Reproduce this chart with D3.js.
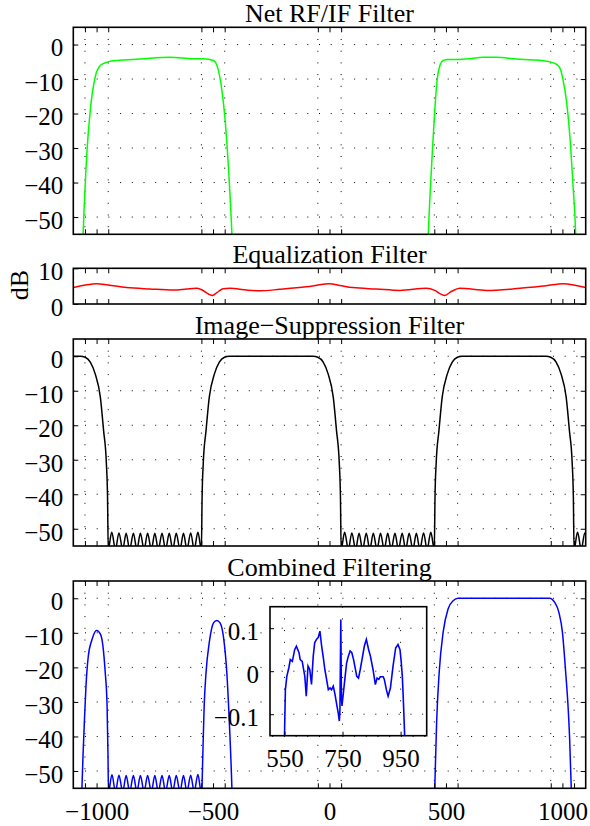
<!DOCTYPE html>
<html>
<head>
<meta charset="utf-8">
<script src="https://cdn.jsdelivr.net/npm/d3@7"></script>
<style>
  body { margin: 0; background: #fff; }
  svg text { font-family: "Liberation Serif", "Times New Roman", serif; fill: #000; }
  .grid line { stroke: #000; stroke-width: 1; stroke-dasharray: 1, 10.7; }
  .tick line { stroke: #000; stroke-width: 1; }
</style>
</head>
<body>
<svg id="chart" width="590" height="826"></svg>
<script>
// ---- tick values ----
const xTickVals = [-1050, -1000, -950, -550, -500, -450, -50, 0, 50, 450, 500, 550, 950, 1000, 1050];
const xGridVals = [-1050, -950, -550, -450, -50, 50, 450, 550, 950, 1050];
const xTickLabels = [-1000, -500, 0, 500, 1000];
const dbTicks = [0, -10, -20, -30, -40, -50];
const eqTicks = [0, 10];
const insetXTicks = [550, 750, 950];
const insetYTicks = [-0.1, 0, 0.1];

// ---- series: [frequency, dB] ----
const netRF = [
  [-1062, -62], [-1058, -55], [-1041, -30.6], [-1027, -19], [-1006, -9.4], [-984, -6.1], [-955, -5.1],
  [-913, -4.6], [-813, -4.2], [-684, -3.7], [-584, -4.1], [-541, -4.1], [-498, -4.6], [-477, -7.5],
  [-462, -13.3], [-448, -22], [-434, -35.5], [-419, -55], [-415, -62],
  [420, -62], [424, -55], [442, -30.6], [452, -19], [462, -10.3], [474, -6.1], [488, -4.6], [509, -4.3],
  [545, -4.3], [602, -4.1], [659, -3.7], [717, -3.7], [803, -4.2], [888, -4.5], [945, -5.0], [974, -5.7],
  [991, -7.1], [1003, -10.3], [1017, -16.1], [1031, -25.7], [1045, -40.2], [1057, -55], [1060, -62]
];

const eqGain = [
  [-1100, 4.6], [-1050, 5.3], [-1000, 5.7], [-950, 5.3], [-871, 4.6], [-771, 4.2], [-670, 3.9],
  [-613, 4.2], [-573, 4.4], [-549, 4.0], [-520, 2.8], [-502, 2.4], [-485, 3.1], [-457, 4.3],
  [-428, 4.4], [-356, 3.9], [-299, 3.7], [-214, 4.1], [-100, 4.8], [-28, 5.5], [0, 5.7], [45, 5.2],
  [100, 4.6], [202, 4.2], [302, 3.8], [416, 4.4], [452, 3.8], [480, 2.7], [495, 2.4], [523, 3.5],
  [559, 4.4], [674, 3.8], [817, 4.4], [931, 5.1], [1002, 5.7], [1100, 4.6]
];

const imageSup = [
  [-1100, 0], [-1070, 0], [-1049, -0.3], [-1027, -1.7], [-1006, -5.1], [-984, -11.8], [-970, -21.5],
  [-958, -31], [-953, -40.8], [-950, -56],
  [-935, -51.0], [-919, -56], [-904, -51.2], [-888, -56], [-873, -51.3], [-858, -56], [-842, -51.3],
  [-827, -56], [-812, -51.3], [-796, -56], [-781, -51.3], [-765, -56], [-750, -51.3], [-735, -56],
  [-719, -51.3], [-704, -56], [-688, -51.3], [-673, -56], [-658, -51.3], [-642, -56], [-627, -51.3],
  [-612, -56], [-596, -51.2], [-581, -56], [-565, -51.0], [-550, -56],
  [-547, -40.8], [-542, -31], [-530, -21.5], [-516, -11.8], [-494, -5.1], [-473, -1.7], [-451, -0.3],
  [-430, 0], [-70, 0], [-50, -0.3], [-27, -1.7], [-6, -5.1], [16, -11.8], [30, -21.5], [42, -31],
  [47, -40.8], [50, -56],
  [65, -51.0], [81, -56], [96, -51.2], [112, -56], [127, -51.3], [142, -56], [158, -51.3], [173, -56],
  [188, -51.3], [204, -56], [219, -51.3], [235, -56], [250, -51.3], [265, -56], [281, -51.3], [296, -56],
  [312, -51.3], [327, -56], [342, -51.3], [358, -56], [373, -51.3], [388, -56], [404, -51.2], [419, -56],
  [435, -51.0], [450, -56],
  [453, -40.8], [458, -31], [470, -21.5], [484, -11.8], [506, -5.1], [527, -1.7], [549, -0.3], [570, 0],
  [930, 0], [950, -0.3], [973, -1.7], [994, -5.1], [1016, -11.8], [1030, -21.5], [1042, -31],
  [1047, -40.8], [1050, -56], [1065, -51.0], [1081, -56], [1096, -51.2], [1112, -56]
];

const combined = [
  [-1066, -62], [-1063, -55], [-1058, -45], [-1052, -35], [-1046, -26], [-1036, -17], [-1020, -12],
  [-1000, -9.3], [-984, -10.3], [-973, -13.7], [-963, -21.4], [-955, -31], [-951, -45.5], [-949, -56],
  [-934, -51.1], [-919, -56], [-904, -51.2], [-888, -56], [-873, -51.3], [-858, -56], [-842, -51.3],
  [-827, -56], [-812, -51.3], [-796, -56], [-781, -51.3], [-765, -56], [-750, -51.3], [-735, -56],
  [-719, -51.3], [-704, -56], [-688, -51.3], [-673, -56], [-658, -51.3], [-642, -56], [-627, -51.3],
  [-612, -56], [-596, -51.2], [-581, -56], [-565, -51.0], [-551, -56],
  [-548, -55], [-544, -45.5], [-538, -31], [-530, -21.4], [-516, -12.7], [-498, -7.1], [-484, -6.4],
  [-470, -7.1], [-455, -11.3], [-441, -21.4], [-430, -35.9], [-419, -55], [-416, -62],
  [449, -62], [452, -55], [460, -35.8], [471, -21.4], [488, -9.8], [509, -3.1], [531, -0.7], [552, 0],
  [945, 0], [967, -1.2], [985, -4.1], [1000, -9.8], [1014, -21.4], [1024, -31], [1031, -40.6],
  [1038, -55], [1041, -62]
];

const passRipple = [
  [549, -0.2], [550, -0.149], [553, -0.043], [558, -0.012], [565, 0.008], [570, 0.027], [577, 0.023],
  [585, 0.05], [591, 0.058], [600, 0.043], [604, 0.027], [611, 0.023], [620, -0.012], [625, -0.058],
  [631, 0.012], [637, 0.004], [643, -0.031], [649, 0.035], [654, 0.066], [660, 0.074], [666, 0.078],
  [672, 0.093], [678, 0.058], [683, 0.035], [689, 0.004], [695, -0.019], [701, -0.043], [707, -0.039],
  [712, -0.043], [718, -0.035], [724, -0.054], [730, -0.078], [736, -0.101], [739, -0.116],
  [741, -0.089], [744, 0.12], [746, -0.058], [748, -0.081], [753, -0.05], [759, -0.012], [764, 0.019],
  [770, 0.035], [776, 0.047], [782, 0.043], [788, 0.027], [799, -0.012], [805, -0.016], [811, 0.004],
  [817, 0.027], [825, 0.058], [832, 0.074], [840, 0.05], [846, 0.035], [855, 0.004], [863, -0.031],
  [869, -0.016], [875, -0.019], [880, -0.013], [890, -0.013], [894, -0.019], [901, -0.043],
  [907, -0.058], [915, -0.039], [924, 0.012], [933, 0.054], [941, 0.062], [948, 0.05], [952, 0.023],
  [956, -0.012], [959, -0.058], [964, -0.149], [965, -0.2]
];

// ---- layout ----
const svg = d3.select("#chart");
const plotLeft = 73.3, plotRight = 585.7;
const x = d3.scaleLinear().domain([-1100, 1100]).range([plotLeft, plotRight]);
const fontSize = 25;
const serif = "'Liberation Serif', 'Times New Roman', serif";

// d3 axes write their own font attrs, so restyle after the call
function styleAxis(a) {
  a.attr("font-size", fontSize).attr("font-family", serif);
  a.selectAll("text").attr("font-family", serif);
  a.select(".domain").remove();
}

function drawPanel(p) {
  const y = d3.scaleLinear().domain(p.yDomain).range([p.bottom, p.top]);
  const g = svg.append("g");

  svg.append("clipPath").attr("id", p.id)
    .append("rect")
    .attr("x", plotLeft).attr("y", p.top)
    .attr("width", plotRight - plotLeft).attr("height", p.bottom - p.top);

  // dotted grid
  if (p.grid) {
    const grid = g.append("g").attr("class", "grid");
    grid.selectAll(".gx").data(xGridVals).join("line").attr("class", "gx")
      .attr("x1", d => x(d)).attr("x2", d => x(d))
      .attr("y1", p.top).attr("y2", p.bottom);
    grid.selectAll(".gy").data(p.yTicks).join("line").attr("class", "gy")
      .attr("x1", plotLeft).attr("x2", plotRight)
      .attr("y1", d => y(d)).attr("y2", d => y(d));
  }

  // curve
  g.append("path")
    .datum(p.data)
    .attr("clip-path", `url(#${p.id})`)
    .attr("fill", "none")
    .attr("stroke", p.color)
    .attr("stroke-width", 1.5)
    .attr("d", d3.line().x(d => x(d[0])).y(d => y(d[1])).curve(d3.curveMonotoneX));

  // axes, ticks pointing inward
  const fmt = d => (p.xLabels && xTickLabels.includes(d)) ? d3.format("d")(d) : "";
  g.append("g")
    .attr("transform", `translate(0,${p.bottom})`)
    .call(d3.axisBottom(x).tickValues(xTickVals).tickSizeInner(-5).tickSizeOuter(0).tickPadding(14).tickFormat(fmt))
    .call(styleAxis);
  g.append("g")
    .attr("transform", `translate(0,${p.top})`)
    .call(d3.axisTop(x).tickValues(xTickVals).tickSizeInner(-5).tickSizeOuter(0).tickFormat(""))
    .call(styleAxis);
  g.append("g")
    .attr("transform", `translate(${plotLeft},0)`)
    .call(d3.axisLeft(y).tickValues(p.yTicks).tickSizeInner(-5).tickSizeOuter(0).tickPadding(10).tickFormat(d3.format("d")))
    .call(styleAxis)
    .call(a => a.selectAll("text").attr("dy", "0.45em"));
  g.append("g")
    .attr("transform", `translate(${plotRight},0)`)
    .call(d3.axisRight(y).tickValues(p.yTicks).tickSizeInner(-5).tickSizeOuter(0).tickFormat(""))
    .call(styleAxis);

  // box
  g.append("rect")
    .attr("x", plotLeft).attr("y", p.top)
    .attr("width", plotRight - plotLeft).attr("height", p.bottom - p.top)
    .attr("fill", "none").attr("stroke", "#000").attr("stroke-width", 1.6);

  // title
  g.append("text")
    .attr("x", (plotLeft + plotRight) / 2)
    .attr("y", p.top - 5.5)
    .attr("text-anchor", "middle")
    .attr("font-size", 26)
    .text(p.title);

  return y;
}

drawPanel({ id: "c1", top: 27.3, bottom: 234.3, yDomain: [-55, 5], yTicks: dbTicks, grid: true,
  data: netRF, color: "#00ff00", title: "Net RF/IF Filter" });
drawPanel({ id: "c2", top: 268.3, bottom: 304, yDomain: [0, 10], yTicks: eqTicks, grid: false,
  data: eqGain, color: "#ff0000", title: "Equalization Filter" });
drawPanel({ id: "c3", top: 339, bottom: 546, yDomain: [-55, 5], yTicks: dbTicks, grid: true,
  data: imageSup, color: "#000000", title: "Image\u2212Suppression Filter" });
drawPanel({ id: "c4", top: 581, bottom: 788.3, yDomain: [-55, 5], yTicks: dbTicks, grid: true,
  data: combined, color: "#0000ff", title: "Combined Filtering", xLabels: true });

// y label
svg.append("text")
  .attr("transform", "translate(28,285) rotate(-90)")
  .attr("text-anchor", "middle")
  .attr("font-size", 26)
  .text("dB");

// ---- inset: passband ripple ----
const inset = { left: 270, right: 426.7, top: 606.7, bottom: 735.7 };
const ix = d3.scaleLinear().domain([500, 1040]).range([inset.left, inset.right]);
const iy = d3.scaleLinear().domain([-0.15, 0.15]).range([inset.bottom, inset.top]);
const ig = svg.append("g");

ig.append("rect")
  .attr("x", inset.left).attr("y", inset.top)
  .attr("width", inset.right - inset.left).attr("height", inset.bottom - inset.top)
  .attr("fill", "#fff");

svg.append("clipPath").attr("id", "cin")
  .append("rect")
  .attr("x", inset.left).attr("y", inset.top)
  .attr("width", inset.right - inset.left).attr("height", inset.bottom - inset.top);

const igrid = ig.append("g").attr("class", "grid");
igrid.selectAll(".gx").data(insetXTicks).join("line").attr("class", "gx")
  .attr("x1", d => ix(d)).attr("x2", d => ix(d))
  .attr("y1", inset.top).attr("y2", inset.bottom);
igrid.selectAll(".gy").data(insetYTicks).join("line").attr("class", "gy")
  .attr("x1", inset.left).attr("x2", inset.right)
  .attr("y1", d => iy(d)).attr("y2", d => iy(d));

ig.append("path")
  .datum(passRipple)
  .attr("clip-path", "url(#cin)")
  .attr("fill", "none")
  .attr("stroke", "#0000ff")
  .attr("stroke-width", 1.6)
  .attr("d", d3.line().x(d => ix(d[0])).y(d => iy(d[1])));

ig.append("g")
  .attr("transform", `translate(0,${inset.bottom})`)
  .call(d3.axisBottom(ix).tickValues(insetXTicks).tickSizeInner(-4).tickSizeOuter(0).tickPadding(14).tickFormat(d3.format("d")))
  .call(styleAxis);
ig.append("g")
  .attr("transform", `translate(${inset.left},0)`)
  .call(d3.axisLeft(iy).tickValues(insetYTicks).tickSizeInner(-4).tickSizeOuter(0).tickPadding(11)
    .tickFormat(d => d === 0 ? "0" : d3.format(".1f")(d)))
  .call(styleAxis)
  .call(a => a.selectAll("text").attr("dy", "0.45em"));

ig.append("rect")
  .attr("x", inset.left).attr("y", inset.top)
  .attr("width", inset.right - inset.left).attr("height", inset.bottom - inset.top)
  .attr("fill", "none").attr("stroke", "#000").attr("stroke-width", 1.6);
</script>
</body>
</html>
